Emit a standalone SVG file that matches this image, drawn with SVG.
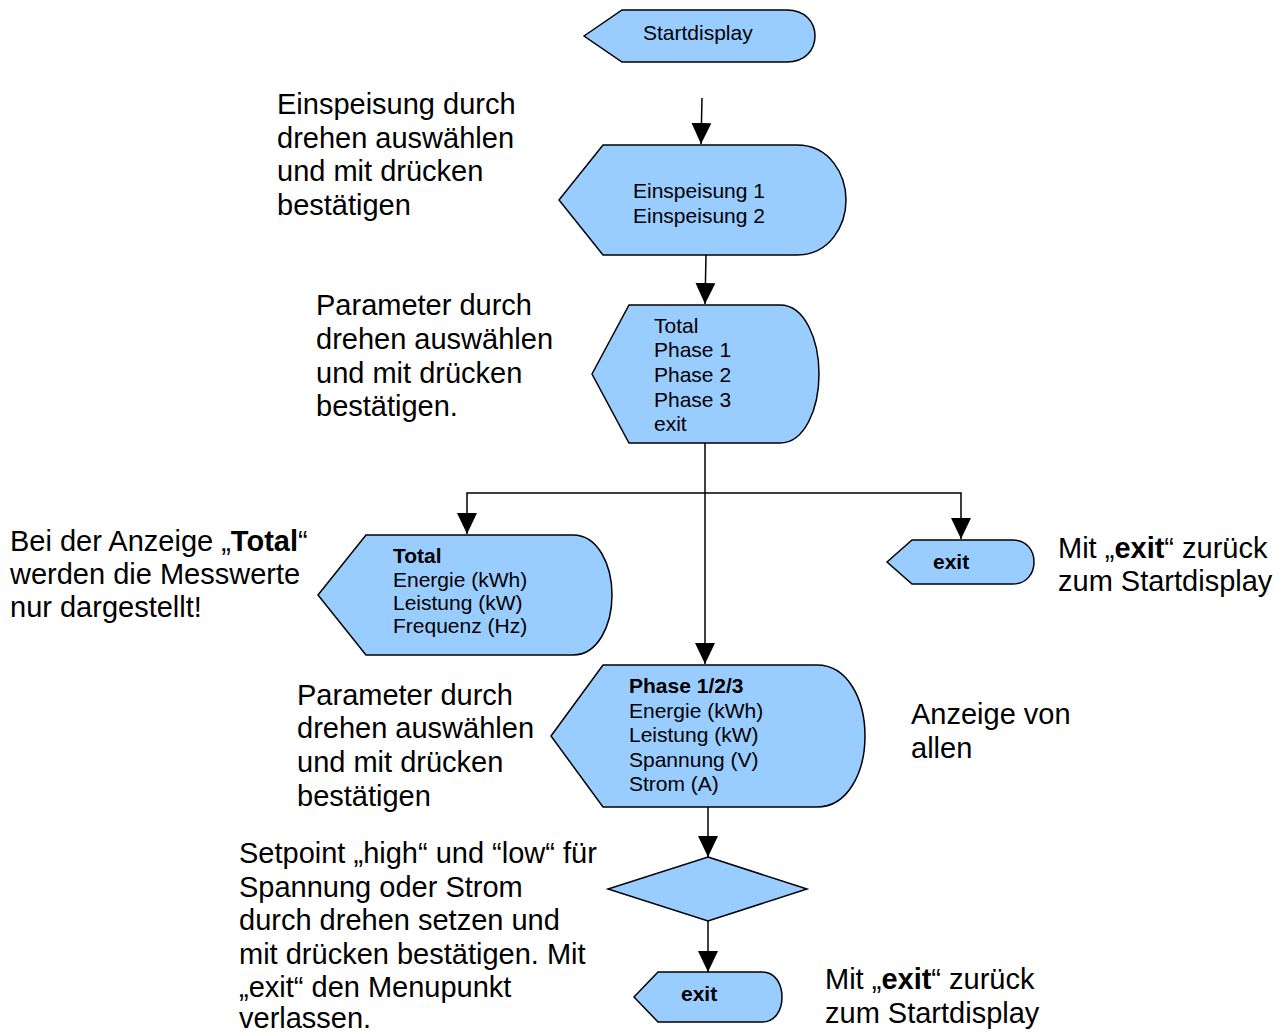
<svg xmlns="http://www.w3.org/2000/svg" width="1277" height="1033" viewBox="0 0 1277 1033">
<style>
.shape{fill:#99CCFF;stroke:#000;stroke-width:1.5;}
.conn{fill:none;stroke:#000;stroke-width:1.5;}
.nt{font-family:"Liberation Sans",Arial,sans-serif;font-size:21px;fill:#000;}
.an{font-family:"Liberation Sans",Arial,sans-serif;font-size:29px;fill:#000;}
.b{font-weight:bold;}
</style>
<defs>
<marker id="arr" viewBox="0 0 21 20" refX="21" refY="10" markerWidth="21" markerHeight="20" markerUnits="userSpaceOnUse" orient="auto">
<path d="M0,0 L21,10 L0,20 Z" fill="#000"/>
</marker>
</defs>
<rect width="1277" height="1033" fill="#fff"/>
<g id="connectors">
<path class="conn" d="M702,98 L701,144" marker-end="url(#arr)"/>
<path class="conn" d="M706,255 L705,304" marker-end="url(#arr)"/>
<path class="conn" d="M705,443 L705,664" marker-end="url(#arr)"/>
<path class="conn" d="M705,493 L467,493 L467,534" marker-end="url(#arr)"/>
<path class="conn" d="M705,493 L961,493 L961,539" marker-end="url(#arr)"/>
<path class="conn" d="M708,807 L708,857" marker-end="url(#arr)"/>
<path class="conn" d="M708,921 L708,972" marker-end="url(#arr)"/>
</g>
<g id="startdisplay">
<path class="shape" d="M584,36 L622,10 L787,10 C805,10 815,22 815,36 C815,50 805,62 787,62 L622,62 Z"/>
<text class="nt" x="643" y="40">Startdisplay</text>
</g>
<g id="einspeisung">
<path class="shape" d="M559,200 L603,145 L797,145 C830,145 846,175 846,200 C846,225 830,255 797,255 L603,255 Z"/>
<text class="nt" x="633" y="198">Einspeisung 1</text>
<text class="nt" x="633" y="223">Einspeisung 2</text>
</g>
<g id="parameter">
<path class="shape" d="M592,374 L629,305 L780,305 C805,305 819,340 819,374 C819,408 805,443 780,443 L629,443 Z"/>
<text class="nt" x="654" y="333">Total</text>
<text class="nt" x="654" y="357">Phase 1</text>
<text class="nt" x="654" y="382">Phase 2</text>
<text class="nt" x="654" y="407">Phase 3</text>
<text class="nt" x="654" y="431">exit</text>
</g>
<g id="total">
<path class="shape" d="M318,595 L366,535 L573,535 C598,535 612,565 612,595 C612,625 598,655 573,655 L366,655 Z"/>
<text class="nt b" x="393" y="563">Total</text>
<text class="nt" x="393" y="587">Energie (kWh)</text>
<text class="nt" x="393" y="610">Leistung (kW)</text>
<text class="nt" x="393" y="633">Frequenz (Hz)</text>
</g>
<g id="exit1">
<path class="shape" d="M887,562 L912,540 L1013,540 C1027,540 1034,551 1034,562 C1034,573 1027,584 1013,584 L912,584 Z"/>
<text class="nt b" x="933" y="569">exit</text>
</g>
<g id="phase">
<path class="shape" d="M551,736 L603,665 L817,665 C848,665 865,700 865,736 C865,772 848,807 817,807 L603,807 Z"/>
<text class="nt b" x="629" y="693">Phase 1/2/3</text>
<text class="nt" x="629" y="718">Energie (kWh)</text>
<text class="nt" x="629" y="742">Leistung (kW)</text>
<text class="nt" x="629" y="767">Spannung (V)</text>
<text class="nt" x="629" y="791">Strom (A)</text>
</g>
<g id="decision">
<path class="shape" d="M708,857 L807,889 L708,921 L608,889 Z"/>
</g>
<g id="exit2">
<path class="shape" d="M634,997 L658,972 L762,972 C776,972 782,985 782,997 C782,1009 776,1022 762,1022 L658,1022 Z"/>
<text class="nt b" x="681" y="1001">exit</text>
</g>
<g id="annotations">
<text class="an"><tspan x="277" y="114">Einspeisung durch</tspan><tspan x="277" y="148">drehen auswählen</tspan><tspan x="277" y="181">und mit drücken</tspan><tspan x="277" y="215">bestätigen</tspan></text>
<text class="an"><tspan x="316" y="315">Parameter durch</tspan><tspan x="316" y="349">drehen auswählen</tspan><tspan x="316" y="383">und mit drücken</tspan><tspan x="316" y="416">bestätigen.</tspan></text>
<text class="an"><tspan x="10" y="551">Bei der Anzeige „<tspan class="b">Total</tspan>“</tspan><tspan x="10" y="584">werden die Messwerte</tspan><tspan x="10" y="617">nur dargestellt!</tspan></text>
<text class="an"><tspan x="1058" y="558">Mit „<tspan class="b">exit</tspan>“ zurück</tspan><tspan x="1058" y="591">zum Startdisplay</tspan></text>
<text class="an"><tspan x="297" y="705">Parameter durch</tspan><tspan x="297" y="738">drehen auswählen</tspan><tspan x="297" y="772">und mit drücken</tspan><tspan x="297" y="806">bestätigen</tspan></text>
<text class="an"><tspan x="911" y="724">Anzeige von</tspan><tspan x="911" y="758">allen</tspan></text>
<text class="an"><tspan x="239" y="863">Setpoint „high“ und “low“ für</tspan><tspan x="239" y="897">Spannung oder Strom</tspan><tspan x="239" y="930">durch drehen setzen und</tspan><tspan x="239" y="964">mit drücken bestätigen. Mit</tspan><tspan x="239" y="997">„exit“ den Menupunkt</tspan><tspan x="239" y="1028">verlassen.</tspan></text>
<text class="an"><tspan x="825" y="989">Mit „<tspan class="b">exit</tspan>“ zurück</tspan><tspan x="825" y="1023">zum Startdisplay</tspan></text>
</g>
</svg>
